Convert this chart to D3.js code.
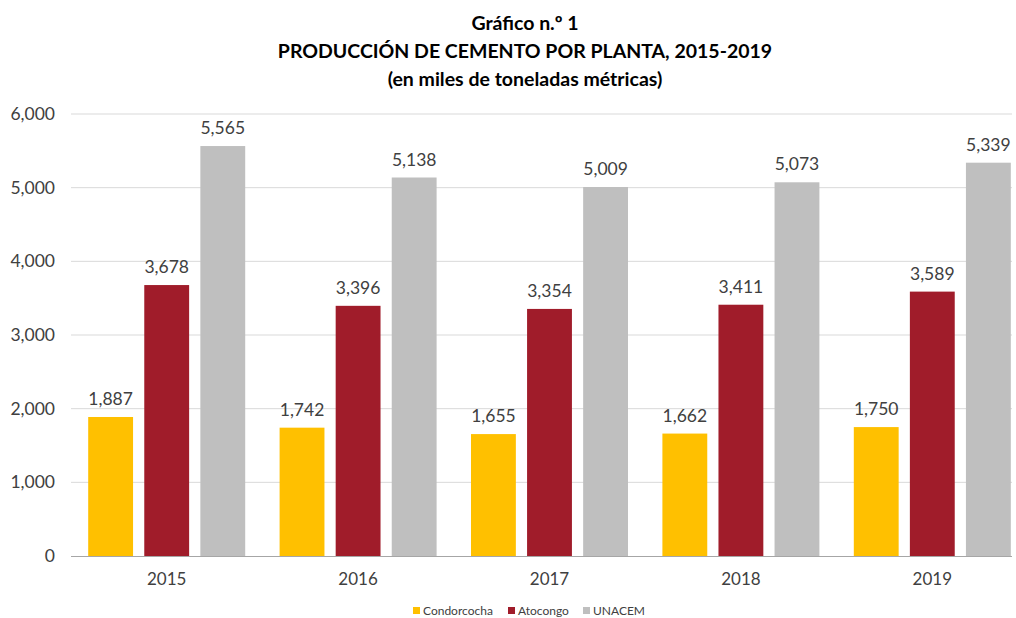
<!DOCTYPE html>
<html>
<head>
<meta charset="utf-8">
<script src="https://cdn.jsdelivr.net/npm/d3@7"></script>
<style>
  body { margin: 0; background: #fff; }
  text { font-family: Lato, "Open Sans", sans-serif; }
</style>
</head>
<body>
<div id="chart"></div>
<script>
// data
const years = ["2015", "2016", "2017", "2018", "2019"];
const plants = ["Condorcocha", "Atocongo", "UNACEM"];
const condorcocha = [1887, 1742, 1655, 1662, 1750];
const atocongo = [3678, 3396, 3354, 3411, 3589];
const unacem = [5565, 5138, 5009, 5073, 5339];
const yTicks = [0, 1000, 2000, 3000, 4000, 5000, 6000];
const colors = ["#FFC000", "#A01C2A", "#BFBFBF"];

const W = 1016, H = 618;
const plotLeft = 71, plotRight = 1028, plotTop = 114, plotBottom = 556;

const svg = d3.select("#chart").append("svg")
    .attr("width", W).attr("height", H);

// title
const titles = ["Gráfico n.º 1", "PRODUCCIÓN DE CEMENTO POR PLANTA, 2015-2019", "(en miles de toneladas métricas)"];
svg.selectAll(".title").data(titles).join("text")
    .attr("x", 525).attr("y", (d, i) => 30 + i * 28)
    .attr("text-anchor", "middle")
    .attr("font-size", 19.5).attr("font-weight", "bold").attr("fill", "#000")
    .text(d => d);

const x0 = d3.scaleBand().domain(years).range([plotLeft, plotRight]).padding(0);
const x1 = d3.scaleBand().domain(plants).range([17.2, x0.bandwidth() - 17.2]).paddingInner(0.2).paddingOuter(0);
const y = d3.scaleLinear().domain([0, 6000]).range([plotBottom, plotTop]);

// gridlines
svg.selectAll(".grid").data(yTicks.filter(d => d > 0)).join("line")
    .attr("x1", plotLeft).attr("x2", 1012)
    .attr("y1", d => y(d)).attr("y2", d => y(d))
    .attr("stroke", "#d9d9d9").attr("stroke-width", 1);

// y axis labels
const yAxis = svg.append("g").attr("transform", `translate(${plotLeft},0)`)
    .call(d3.axisLeft(y).tickValues(yTicks).tickFormat(d3.format(",")).tickSize(0).tickPadding(16));
yAxis.select(".domain").remove();
yAxis.selectAll("text").attr("font-size", 17.5).attr("fill", "#404040")
    .style("font-family", "Lato, 'Open Sans', sans-serif");

const series = [condorcocha, atocongo, unacem];
const rows = [];
series.forEach((vals, s) => vals.forEach((v, i) => rows.push({ year: years[i], plant: plants[s], s: s, value: v })));

svg.selectAll(".bar").data(rows).join("rect")
    .attr("x", d => x0(d.year) + x1(d.plant))
    .attr("width", x1.bandwidth())
    .attr("y", d => y(d.value))
    .attr("height", d => y(0) - y(d.value))
    .attr("fill", d => colors[d.s]);

svg.selectAll(".val").data(rows).join("text")
    .attr("x", d => x0(d.year) + x1(d.plant) + x1.bandwidth() / 2)
    .attr("y", d => y(d.value) - 12)
    .attr("text-anchor", "middle")
    .attr("font-size", 17.5).attr("fill", "#404040")
    .text(d => d3.format(",")(d.value));

// x axis
svg.append("line").attr("x1", plotLeft).attr("x2", 1012)
    .attr("y1", plotBottom + 0.5).attr("y2", plotBottom + 0.5)
    .attr("stroke", "#a6a6a6").attr("stroke-width", 1.2);

svg.selectAll(".year").data(years).join("text")
    .attr("x", d => x0(d) + x0.bandwidth() / 2)
    .attr("y", 585)
    .attr("text-anchor", "middle")
    .attr("font-size", 17).attr("fill", "#404040")
    .text(d => d);

// legend
const legX = [413, 508, 583];
const leg = svg.selectAll(".leg").data(plants).join("g")
    .attr("transform", (d, i) => `translate(${legX[i]},607)`);
leg.append("rect").attr("width", 7).attr("height", 7).attr("fill", (d, i) => colors[i]);
leg.append("text").attr("x", 10).attr("y", 8)
    .attr("font-size", 12).attr("fill", "#404040").text(d => d);
</script>
</body>
</html>
